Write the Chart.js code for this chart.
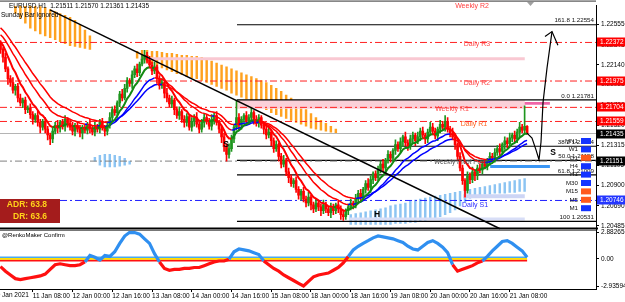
<!DOCTYPE html>
<html>
<head>
<meta charset="utf-8">
<script src="https://cdn.jsdelivr.net/npm/chart.js@4.4.0/dist/chart.umd.min.js"></script>
<style>
  html, body { margin: 0; padding: 0; background: #fff; }
  #wrap { position: relative; width: 625px; height: 302px; }
</style>
</head>
<body>
<div id="wrap"><canvas id="chart" width="625" height="302"></canvas></div>
<script>
// EURUSD H1 - bar index 0 = first date label, one step = one H1 bar
const firstBar = 3;
const firstOpen = 1.2236;
const closes = [
  1.2230,1.2222,1.2210,1.2200,1.2196,1.2188,1.2192,1.2180,1.2175,1.2178,
  1.2168,1.2170,1.2163,1.2158,1.2162,1.2155,1.2150,1.2156,1.2148,1.2142,
  1.2138,1.2146,1.2152,1.2149,1.2155,1.2151,1.2158,1.2154,1.2150,1.2146,
  1.2152,1.2148,1.2144,1.2150,1.2147,1.2153,1.2149,1.2145,1.2151,1.2148,
  1.2155,1.2150,1.2146,1.2152,1.2160,1.2168,1.2165,1.2175,1.2184,1.2180,
  1.2190,1.2198,1.2195,1.2204,1.2210,1.2206,1.2215,1.2220,1.2224,1.2219,
  1.2214,1.2208,1.2212,1.2200,1.2193,1.2196,1.2185,1.2180,1.2174,1.2178,
  1.2168,1.2162,1.2166,1.2158,1.2155,1.2161,1.2150,1.2156,1.2160,1.2153,
  1.2148,1.2155,1.2160,1.2157,1.2151,1.2158,1.2162,1.2155,1.2148,1.2140,
  1.2130,1.2122,1.2128,1.2138,1.2150,1.2160,1.2152,1.2158,1.2162,1.2156,
  1.2160,1.2165,1.2158,1.2154,1.2160,1.2152,1.2148,1.2142,1.2145,1.2136,
  1.2128,1.2132,1.2120,1.2112,1.2116,1.2104,1.2098,1.2092,1.2095,1.2086,
  1.2080,1.2084,1.2076,1.2072,1.2078,1.2070,1.2066,1.2072,1.2068,1.2064,
  1.2070,1.2066,1.2062,1.2068,1.2064,1.2070,1.2066,1.2060,1.2058,1.2064,
  1.2068,1.2072,1.2070,1.2076,1.2082,1.2078,1.2086,1.2092,1.2088,1.2096,
  1.2102,1.2098,1.2106,1.2112,1.2108,1.2116,1.2122,1.2118,1.2126,1.2132,
  1.2128,1.2135,1.2140,1.2134,1.2130,1.2138,1.2142,1.2136,1.2140,1.2146,
  1.2142,1.2138,1.2145,1.2150,1.2146,1.2141,1.2148,1.2153,1.2150,1.2156,
  1.2148,1.2144,1.2140,1.2132,1.2120,1.2108,1.2095,1.2085,1.2100,1.2096,
  1.2104,1.2100,1.2108,1.2106,1.2112,1.2110,1.2116,1.2120,1.2118,1.2124,
  1.2128,1.2125,1.2132,1.2136,1.2133,1.2139,1.2142,1.2138,1.2145,1.2150,
  1.2147,1.2151,1.21435
];
// upper / lower shadow in pips
const wickUp = [
  3,2,4,2,3,5,2,3,4,2,3,2,4,3,2,5,3,2,4,3,
  2,4,3,5,2,3,4,2,3,5,2,3,4,2,3,2,5,3,4,2,
  3,4,2,3,5,3,4,2,3,5,4,3,2,4,3,5,2,4,5,3,
  4,3,5,2,3,4,2,5,3,4,2,3,5,2,4,3,2,4,3,5,
  2,3,4,3,2,5,3,4,2,3,4,3,5,4,3,18,4,3,2,4,
  3,5,2,4,3,2,4,3,5,2,3,4,2,3,5,2,4,3,2,4,
  3,2,4,3,5,2,3,4,2,3,5,3,2,4,3,2,4,3,5,2,
  3,4,2,5,3,4,2,3,5,4,2,3,4,3,5,2,4,3,2,5,
  3,4,2,5,3,4,3,2,5,3,4,2,3,5,4,3,2,4,3,6,
  4,3,5,3,2,4,3,2,4,3,5,2,3,4,3,5,2,4,3,4,
  3,5,2,4,3,5,2,4,3,5,3,21,0.6
];
const wickDn = [
  4,5,3,6,4,3,5,4,3,5,4,3,4,5,3,4,6,3,4,5,
  6,4,3,5,4,3,5,4,3,4,5,3,4,6,3,4,5,3,4,3,
  4,3,5,4,3,4,3,5,4,3,2,4,3,5,3,4,3,2,4,3,
  3,4,3,5,4,3,5,4,3,4,5,3,4,3,5,4,3,4,5,3,
  4,3,5,4,3,4,5,3,4,6,5,7,4,3,4,3,5,4,3,4,
  3,4,5,3,4,3,5,4,3,5,4,3,5,4,3,4,5,3,4,3,
  4,5,3,4,3,5,4,3,4,5,3,4,3,5,4,3,4,5,4,3,
  4,3,4,3,5,4,3,4,3,5,4,3,4,3,4,5,3,4,3,4,
  3,4,5,3,4,3,4,5,3,4,3,5,4,3,4,3,5,4,3,4,
  3,4,3,5,4,3,4,7,3,4,3,5,4,3,4,3,4,5,3,4,
  3,4,3,5,4,3,4,3,4,5,3,4,0.7
];

// moving averages: period and starting value
const maPeriods = [8, 17, 25];
const maSeeds = [1.2240, 1.2247, 1.2254];

// cloud histograms (every 2nd bar)
const orange1Start = 9;
const orange1Top = [1.2275,1.2275,1.2275,1.2275,1.2275,1.2274,1.2273,1.2271,1.2269,1.2267,1.2265,1.2263,1.2260,1.2255,1.2250,1.2244];
const orange1Bot = [1.2267,1.2262,1.2257,1.2252,1.2249,1.2246,1.2244,1.2242,1.2240,1.2238,1.2236,1.2234,1.2233,1.2232,1.2231,1.2230];
const orange2Start = 58;
const orange2Top = [1.2228,1.2229,1.2229,1.2228,1.2228,1.2227,1.2226,1.2226,1.2225,1.2224,1.2224,1.2223,1.2223,1.2222,1.2220,1.2218,1.2216,1.2214,1.2212,1.2210,1.2208,1.2206,1.2204,1.2202,1.2200,1.2198,1.2196,1.2193,1.2190,1.2187,1.2183,1.2180,1.2176,1.2172,1.2168,1.2164,1.2160,1.2157,1.2154,1.2151,1.2148];
const orange2Bot = [1.2221,1.2219,1.2217,1.2215,1.2213,1.2211,1.2209,1.2207,1.2205,1.2204,1.2202,1.2201,1.2200,1.2198,1.2196,1.2194,1.2192,1.2190,1.2188,1.2185,1.2183,1.2181,1.2179,1.2177,1.2174,1.2171,1.2168,1.2165,1.2163,1.2161,1.2159,1.2157,1.2155,1.2153,1.2151,1.2149,1.2148,1.2147,1.2146,1.2145,1.2144];
const blue1Start = 41;
const blue1Top = [1.2119,1.2121,1.2122,1.2122,1.2121,1.2120,1.2118,1.2115];
const blue1Bot = [1.2115,1.2111,1.2109,1.2109,1.2109,1.2110,1.2111,1.2112];
const blue2Start = 144;
const blue2Top = [1.2060,1.2061,1.2062,1.2063,1.2064,1.2065,1.2066,1.2067,1.2069,1.2070,1.2071,1.2072,1.2074,1.2075,1.2076,1.2077,1.2078,1.2079,1.2080,1.2081,1.2082,1.2083,1.2084,1.2085,1.2086,1.2087,1.2088,1.2089,1.2090,1.2091,1.2092,1.2093,1.2094,1.2095,1.2096,1.2097];
const blue2Bot = [1.2050,1.2050,1.2050,1.2050,1.2050,1.2050,1.2050,1.2050,1.2050,1.2051,1.2051,1.2051,1.2052,1.2052,1.2053,1.2054,1.2055,1.2056,1.2058,1.2060,1.2062,1.2065,1.2069,1.2073,1.2077,1.2079,1.2080,1.2081,1.2081,1.2082,1.2082,1.2082,1.2083,1.2083,1.2084,1.2084];

// levels
const redLevels = [1.22372, 1.21975, 1.21704, 1.21559];
const blueLevels = [1.20746];
const grayLevels = [1.21151];
const bidPrice = 1.21435;
const fibStart = 98.2;
const fibNames = ['161.8', '0.0', '38.2', '50.0', '61.8', '100'];
const fibPrices = [1.22554, 1.21781, 1.21304, 1.21158, 1.21009, 1.20531];

// zones: [from bar, to bar, top, bottom]
const zones = [
  [59.2, 214.1, 1.2222, 1.2219, '#f9c8d2'],
  [98.2, 214.1, 1.21781, 1.21690, '#fbd0d8'],
  [200.9, 224.2, 1.2176, 1.2173, '#f065a8'],
  [200.1, 224.2, 1.2111, 1.2108, '#3a96f5'],
  [189.2, 214.1, 1.2081, 1.2077, '#cdd5f5'],
  [143.7, 214.1, 1.2057, 1.2054, '#d8def7']
];

// hand-drawn trend line and projection arrow
const trendX = [22.93, 204.1];
const trendY = [1.22707, 1.20455];
const arrowX = [214.96, 216.97, 218.58, 219.79, 220.60, 221.40, 223.01, 225.02];
const arrowY = [1.21439, 1.21388, 1.21266, 1.21165, 1.21347, 1.21753, 1.22108, 1.22484];
const headX = [222.2, 225.02, 227.4];
const headY = [1.22433, 1.22484, 1.22342];

// RenkoMaker Confirm oscillator, every 2nd bar from bar 3
const oscStart = 3;
const osc = [
  -0.83,-1.33,-1.74,-2.14,-2.24,-2.14,-2.04,-1.94,-1.84,-1.64,
  -1.13,-0.63,-0.53,-0.63,-0.73,-0.73,-0.63,-0.33,0.37,0.17,
  -0.13,0.37,0.27,0.77,1.68,2.48,2.88265,2.85,2.68,2.17,
  1.68,0.57,-0.33,-1.03,-1.23,-1.13,-1.13,-1.03,-1.03,-0.93,
  -0.93,-0.73,-0.53,-0.33,-0.23,-0.23,-0.03,0.77,1.07,0.97,
  0.87,0.67,0.47,-0.23,-0.63,-1.03,-1.33,-1.74,-2.04,-2.34,
  -2.64,-2.93594,-2.44,-1.94,-1.74,-1.64,-1.53,-1.23,-0.93,-0.43,
  0.27,0.97,1.37,1.68,1.97,2.28,2.48,2.38,2.28,2.17,
  1.97,1.78,1.37,1.07,0.97,1.37,1.78,1.97,1.68,1.27,
  0.67,-0.63,-1.33,-1.13,-0.93,-0.73,-0.43,-0.23,0.27,0.87,
  1.37,1.88,1.97,1.68,1.27,0.87,0.17
];
const oscLevels = [0.18, 0, -0.18];

// axes
const firstTimeTick = 0;
const firstTimeLabel = '10 Jan 2021';
const timeTicks = [16, 32, 48, 64, 80, 96, 112, 128, 144, 160, 176, 192, 208];
const timeLabels = ['11 Jan 08:00', '12 Jan 00:00', '12 Jan 16:00', '13 Jan 08:00', '14 Jan 00:00',
  '14 Jan 16:00', '15 Jan 08:00', '18 Jan 00:00', '18 Jan 16:00', '19 Jan 08:00', '20 Jan 00:00', '20 Jan 16:00', '21 Jan 08:00'];
const priceTicks = [1.22555, 1.22345, 1.22140, 1.21938, 1.21730, 1.21520, 1.21315, 1.21105, 1.20900, 1.20690, 1.20485];
const oscTicks = [2.88265, 0, -2.93594];

const tfNames = ['MN1', 'W1', 'D1', 'H4', 'H1', 'M30', 'M15', 'M5', 'M1'];
const tfUp = [true, true, false, true, true, true, false, false, true];
const adr = 63.8, dr = 63.6;

// ---------- build ----------
const GREEN = '#1e961e', RED = '#ff0000', BLUE = '#0000ff';
const FONT = '"Liberation Sans", Arial, sans-serif';
const xMin = 2.8, xMax = 2.8 + 596 / 2.484;

const barX = closes.map((c, k) => firstBar + k);
const opens = closes.map((c, k) => k === 0 ? firstOpen : closes[k - 1]);
const highs = closes.map((c, k) => Math.max(opens[k], c) + wickUp[k] / 10000);
const lows = closes.map((c, k) => Math.min(opens[k], c) - wickDn[k] / 10000);
const candleCol = closes.map((c, k) => c >= opens[k] ? GREEN : RED);

const ema = (period, seed) => {
  const k = 2 / (period + 1);
  let v = seed;
  return closes.map(c => (v = v + k * (c - v)));
};

const lineDs = (xs, ys, color, width, dash, order, axis) => ({
  type: 'line', data: xs.map((x, k) => ({ x, y: ys[k] })), borderColor: color, borderWidth: width,
  borderDash: dash || [], pointRadius: 0, fill: false, tension: 0, order, yAxisID: axis || 'y'
});

const cloudDs = (start, tops, bots, color) => ({
  type: 'bar', data: tops.map((t, k) => ({ x: start + 2 * k, y: [bots[k], t] })),
  backgroundColor: color, barThickness: 1.8, grouped: false, order: 9, yAxisID: 'y'
});

const datasets = [];
datasets.push(cloudDs(orange1Start, orange1Top, orange1Bot, '#ffa21f'));
datasets.push(cloudDs(orange2Start, orange2Top, orange2Bot, '#ffa21f'));
datasets.push(cloudDs(blue1Start, blue1Top, blue1Bot, '#8cc4f2'));
datasets.push(cloudDs(blue2Start, blue2Top, blue2Bot, '#8cc4f2'));

zones.forEach(z => {
  const top = lineDs([z[0], z[1]], [z[2], z[2]], 'rgba(0,0,0,0)', 0, null, 8);
  top.fill = '+1';
  top.backgroundColor = z[4];
  datasets.push(top);
  datasets.push(lineDs([z[0], z[1]], [z[3], z[3]], 'rgba(0,0,0,0)', 0, null, 8));
});

const dashDot = [7, 3, 2, 3];
redLevels.forEach(p => datasets.push(lineDs([xMin, xMax], [p, p], '#ff2020', 1, dashDot, 7)));
blueLevels.forEach(p => datasets.push(lineDs([xMin, xMax], [p, p], '#2020ff', 1, dashDot, 7)));
grayLevels.forEach(p => datasets.push(lineDs([xMin, xMax], [p, p], '#808080', 1, dashDot, 7)));
datasets.push(lineDs([xMin, xMax], [bidPrice, bidPrice], '#b4b4b4', 1, null, 7));
fibPrices.forEach(p => datasets.push(lineDs([fibStart, xMax], [p, p], '#000000', 1.2, null, 7)));

// candles
datasets.push({
  type: 'bar', data: barX.map((x, k) => ({ x, y: [lows[k], highs[k]] })),
  backgroundColor: candleCol, barThickness: 1, grouped: false, order: 6, yAxisID: 'y'
});
datasets.push({
  type: 'bar', data: barX.map((x, k) => ({ x, y: [opens[k], closes[k]] })),
  backgroundColor: candleCol, barThickness: 2, minBarLength: 1, grouped: false, order: 5, yAxisID: 'y'
});

// moving averages
maPeriods.forEach((per, m) => {
  const vals = ema(per, maSeeds[m]);
  const up = m === 0 ? '#138a13' : BLUE;
  const ds = lineDs(barX, vals, RED, m === 0 ? 2 : 1.5, null, 3);
  ds.segment = { borderColor: c => c.p1.parsed.y >= c.p0.parsed.y ? up : RED };
  datasets.push(ds);
});

datasets.push(lineDs(trendX, trendY, '#000000', 1.4, null, 2));
datasets.push(lineDs(arrowX, arrowY, '#000000', 1.2, null, 1));
datasets.push(lineDs(headX, headY, '#000000', 1.2, null, 1));

// indicator pane
const oscX = osc.map((v, k) => oscStart + 2 * k);
datasets.push(lineDs([xMin, 215], [oscLevels[2], oscLevels[2]], '#ff1010', 2, null, 4, 'y2'));
datasets.push(lineDs([xMin, 215], [oscLevels[1], oscLevels[1]], '#ffe000', 1.6, null, 3, 'y2'));
datasets.push(lineDs([xMin, 215], [oscLevels[0], oscLevels[0]], '#4aa8f0', 1.6, null, 3, 'y2'));
const oscDs = lineDs(oscX, osc, '#2f8ff0', 3.2, null, 1, 'y2');
oscDs.segment = { borderColor: c => (c.p0.parsed.y + c.p1.parsed.y) / 2 >= 0 ? '#2f8ff0' : '#ff1010' };
datasets.push(oscDs);

// ---------- annotation texts ----------
const overlay = {
  id: 'overlay',
  afterDatasetsDraw(chart) {
    const ctx = chart.ctx;
    const ys = chart.scales.y;
    ctx.save();
    const txt = (s, x, y, color, size, align, bold) => {
      ctx.font = (bold ? 'bold ' : '') + size + 'px ' + FONT;
      ctx.fillStyle = color;
      ctx.textAlign = align || 'center';
      ctx.textBaseline = 'middle';
      ctx.fillText(s, x, y);
    };
    txt('Weekly R2', 472, 6, '#ff4040', 7);
    txt('Daily R3', 477, 44, '#ff4a4a', 7);
    txt('Daily R2', 477, 83, '#ff4a4a', 7);
    txt('Weekly R1', 452, 109, '#ff4a4a', 7);
    txt('Daily R1', 474, 124, '#ff6422', 7);
    txt('Weekly Pivot Point', 461, 162, '#505050', 6.5);
    txt('Daily S1', 475, 205, '#2a2aff', 7);
    txt('S', 226, 145, '#000', 8.5, 'center', true);
    txt('S', 553, 153, '#000', 8.5, 'center', true);
    txt('H', 377, 215, '#000', 8.5, 'center', true);

    // fib labels
    fibPrices.forEach((p, k) => {
      txt(fibNames[k] + ' ' + p.toFixed(5), 594, ys.getPixelForValue(p) - 4, '#111', 6.2, 'right');
    });

    // timeframe trend boxes
    tfNames.forEach((n, k) => {
      const y = 141 + k * 8.4;
      txt(n, 578, y, '#111', 6.2, 'right');
      ctx.fillStyle = tfUp[k] ? '#1434ff' : '#ff5a1e';
      ctx.fillRect(581, y - 3, 10, 6);
    });

    // header
    txt('EURUSD,H1  1.21511 1.21570 1.21361 1.21435', 9, 6, '#000', 6.5, 'left');
    txt('Sunday Bar ignored', 1, 15, '#000', 6.5, 'left');
    txt('@RenkoMaker Confirm', 2, 235, '#000', 6, 'left');

    // ADR box
    ctx.fillStyle = '#a41c1c';
    ctx.fillRect(0, 199, 60, 24);
    txt('ADR: ' + adr.toFixed(1), 47, 205, '#ffd21a', 8.5, 'right', true);
    txt('DR: ' + dr.toFixed(1), 47, 216.5, '#ffd21a', 8.5, 'right', true);

    // shift marker
    ctx.fillStyle = '#a0a0a0';
    ctx.beginPath();
    ctx.moveTo(527, 2); ctx.lineTo(534, 2); ctx.lineTo(530.5, 6); ctx.closePath();
    ctx.fill();
    ctx.restore();
  },
  afterDraw(chart) {
    const ctx = chart.ctx;
    const ys = chart.scales.y;
    const xs = chart.scales.x;
    const a = chart.chartArea;
    ctx.save();
    // frame
    ctx.fillStyle = '#555';
    ctx.fillRect(0, 0.5, a.right, 1.2);
    ctx.fillStyle = '#000';
    ctx.fillRect(0, 227.5, a.right + 2, 2);
    ctx.fillStyle = '#777';
    ctx.fillRect(0, 230, a.right, 1);
    // first date label, cut at the left edge like the terminal does
    ctx.font = '6.5px ' + FONT;
    ctx.fillStyle = '#000';
    ctx.textAlign = 'left';
    ctx.textBaseline = 'top';
    ctx.fillText(firstTimeLabel, xs.getPixelForValue(firstTimeTick), xs.top + 3);
    // price marks on the scale
    const marks = [];
    redLevels.forEach(p => marks.push([p, '#ff0000']));
    marks.push([bidPrice, '#000000']);
    grayLevels.forEach(p => marks.push([p, '#000000']));
    blueLevels.forEach(p => marks.push([p, '#2436ff']));
    ctx.textBaseline = 'middle';
    marks.forEach(([p, col]) => {
      const y = Math.round(ys.getPixelForValue(p));
      ctx.fillStyle = col;
      ctx.fillRect(597, y - 4.5, 28, 9);
      ctx.fillStyle = '#fff';
      ctx.fillText(p.toFixed(5), 600, y + 0.5);
    });
    ctx.restore();
  }
};

const tickFont = { family: FONT, size: 6.5 };
new Chart(document.getElementById('chart'), {
  type: 'bar',
  data: { datasets },
  options: {
    responsive: false,
    animation: false,
    events: [],
    layout: { padding: { top: 2, left: 0, right: 0, bottom: 0 } },
    plugins: { legend: { display: false }, tooltip: { enabled: false } },
    scales: {
      x: {
        type: 'linear', min: xMin, max: xMax, offset: false,
        afterFit: s => { s.height = 13; },
        afterBuildTicks: s => { s.ticks = timeTicks.map(v => ({ value: v })); },
        ticks: { callback: (v, i) => timeLabels[i], font: tickFont, color: '#000', align: 'start',
          autoSkip: false, maxRotation: 0, minRotation: 0, padding: 0 },
        grid: { drawOnChartArea: false, offset: false, tickLength: 3, color: '#000' },
        border: { color: '#000' }
      },
      y: {
        type: 'linear', position: 'right', stack: 'pane', stackWeight: 227,
        min: 1.20444, max: 1.22748,
        afterFit: s => { s.width = 29; },
        afterBuildTicks: s => { s.ticks = priceTicks.map(v => ({ value: v })); },
        ticks: { callback: v => v.toFixed(5), font: tickFont, color: '#000', padding: 2, autoSkip: false },
        grid: { drawOnChartArea: false, tickLength: 3, color: '#000' },
        border: { color: '#000' }
      },
      y2: {
        type: 'linear', position: 'right', stack: 'pane', stackWeight: 60,
        min: -3.26, max: 3.15,
        afterFit: s => { s.width = 29; },
        afterBuildTicks: s => { s.ticks = oscTicks.map(v => ({ value: v })); },
        ticks: { callback: v => v === 0 ? '0.00' : v.toFixed(5), font: tickFont, color: '#000', padding: 2, autoSkip: false },
        grid: { drawOnChartArea: false, tickLength: 3, color: '#000' },
        border: { color: '#000' }
      }
    }
  },
  plugins: [overlay]
});
</script>
</body>
</html>
